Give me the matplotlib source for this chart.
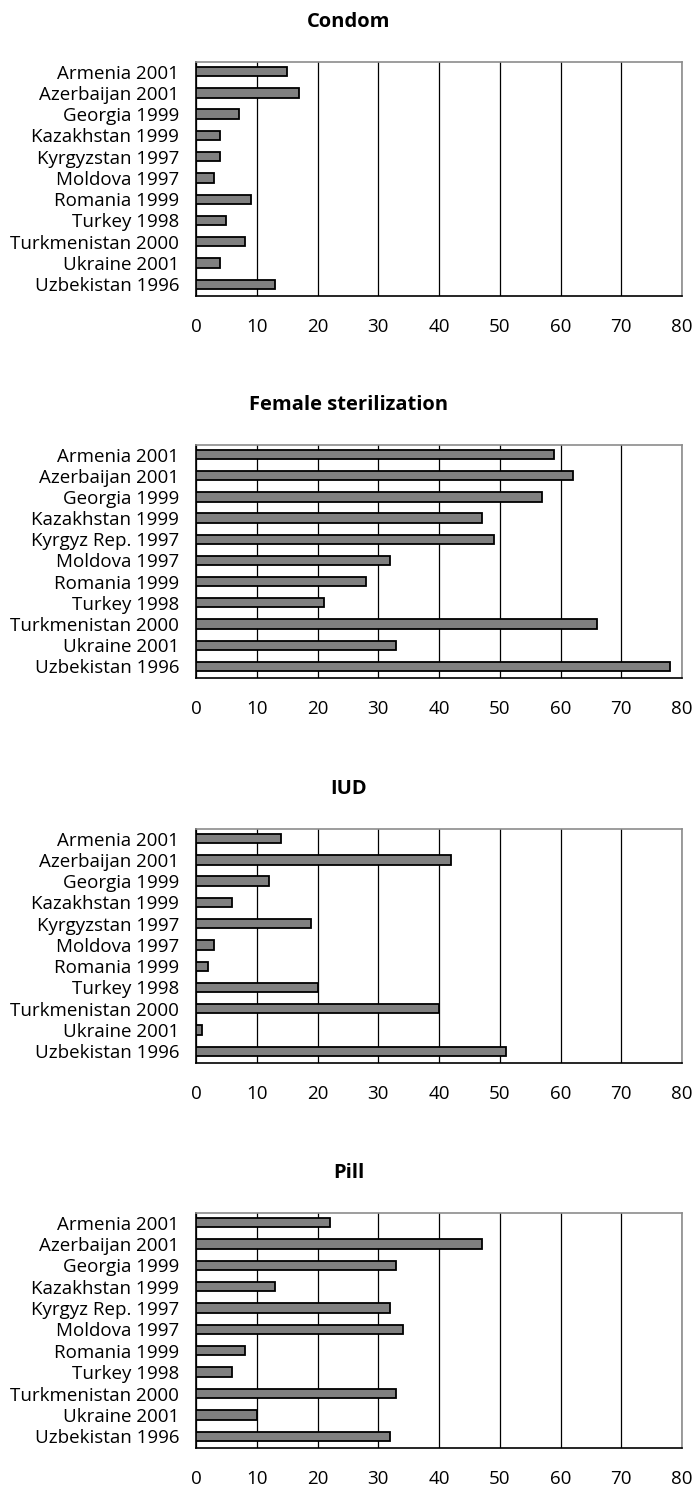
import numpy as np
import matplotlib.pyplot as plt

plt.rcParams['font.family'] = ['Open Sans', 'DejaVu Sans']

countries_a = ['Armenia 2001', 'Azerbaijan 2001', 'Georgia 1999', 'Kazakhstan 1999',
               'Kyrgyzstan 1997', 'Moldova 1997', 'Romania 1999', 'Turkey 1998',
               'Turkmenistan 2000', 'Ukraine 2001', 'Uzbekistan 1996']
countries_b = ['Armenia 2001', 'Azerbaijan 2001', 'Georgia 1999', 'Kazakhstan 1999',
               'Kyrgyz Rep. 1997', 'Moldova 1997', 'Romania 1999', 'Turkey 1998',
               'Turkmenistan 2000', 'Ukraine 2001', 'Uzbekistan 1996']

condom = [15, 17, 7, 4, 4, 3, 9, 5, 8, 4, 13]
female_sterilization = [59, 62, 57, 47, 49, 32, 28, 21, 66, 33, 78]
iud = [14, 42, 12, 6, 19, 3, 2, 20, 40, 1, 51]
pill = [22, 47, 33, 13, 32, 34, 8, 6, 33, 10, 32]

panels = [
    ('Condom', countries_a, condom),
    ('Female sterilization', countries_b, female_sterilization),
    ('IUD', countries_a, iud),
    ('Pill', countries_b, pill),
]

W, H = 697, 1490
fig = plt.figure(figsize=(W / 100, H / 100), dpi=100)

# axes top / bottom in pixels
boxes = [(62, 296), (445, 678), (829, 1063), (1213, 1448)]
left, right = 196, 682

for (title, labels, vals), (top, bot) in zip(panels, boxes):
    ax = fig.add_axes([left / W, (H - bot) / H, (right - left) / W, (bot - top) / H])
    y = np.arange(len(labels))
    ax.barh(y, vals, height=0.44, color='#808080', edgecolor='black', linewidth=1.3, zorder=3)
    ax.set_xlim(0, 80)
    ax.set_ylim(10.55, -0.45)
    ax.set_xticks(np.arange(0, 81, 10))
    ax.set_yticks(y)
    ax.set_yticklabels(labels)
    ax.tick_params(axis='both', length=0, labelsize=13.5, colors='black')
    ax.tick_params(axis='y', pad=12)
    ax.tick_params(axis='x', pad=16)
    ax.grid(axis='x', color='black', linewidth=0.9, zorder=0)
    ax.spines['top'].set_color('#8c8c8c')
    ax.spines['right'].set_color('#8c8c8c')
    for s in ['left', 'bottom']:
        ax.spines[s].set_color('black')
    for s in ax.spines.values():
        s.set_linewidth(1.2)
    # titles sit centred on the page, not on the plot area
    fig.text(0.5, (H - (top - 35)) / H, title, ha='center', va='baseline',
             fontweight='bold', fontsize=14.5)

plt.savefig('out.png', dpi=100)
